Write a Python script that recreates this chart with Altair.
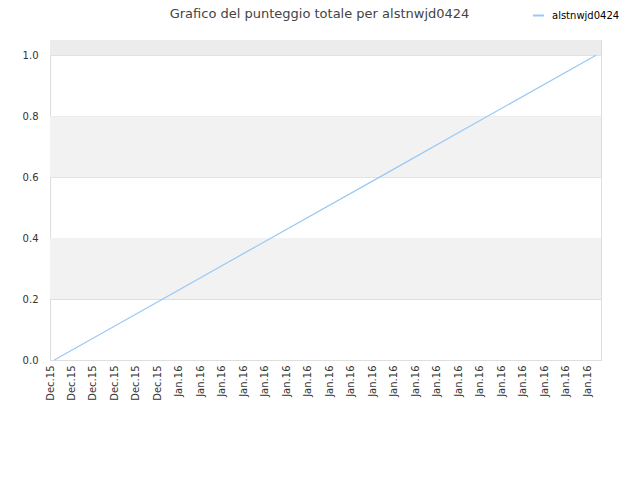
import altair as alt
import pandas as pd

# ---- data ----
tick_labels = ["Dec.15"] * 6 + ["Jan.16"] * 20
series_name = "alstnwjd0424"
series_x = [0.2, 5.0, 10.0, 15.0, 20.0, 25.4]
series_y = [0.0, 0.19, 0.389, 0.587, 0.786, 1.0]
band_lo = [0.2, 0.6, 1.0]
band_hi = [0.4, 0.8, 1.05]
band_fill = ["#f2f2f2", "#f2f2f2", "#ececec"]

line_df = pd.DataFrame({"x": series_x, "y": series_y, "s": [series_name] * len(series_x)})
band_df = pd.DataFrame({"lo": band_lo, "hi": band_hi, "fill": band_fill})

FONT = "DejaVu Sans"
xdom = [0, 25.63]
ydom = [0, 1.05]
label_expr = "[" + ",".join("'" + t + "'" for t in tick_labels) + "][datum.value]"

xscale = alt.Scale(domain=xdom, nice=False, zero=False)
yscale = alt.Scale(domain=ydom, nice=False)

yaxis = alt.Axis(
    values=[0, 0.2, 0.4, 0.6, 0.8, 1.0],
    format=".1f",
    ticks=False,
    domain=False,
    grid=True,
    gridColor="#dedede",
    labelPadding=12,
    title=None,
    labelFont=FONT,
    labelFontSize=10,
    labelColor="#333333",
)

bands = alt.Chart(band_df).mark_rect().encode(
    x=alt.value(0),
    x2=alt.value(551),
    y=alt.Y("lo:Q", scale=yscale, axis=yaxis),
    y2="hi:Q",
    fill=alt.Fill("fill:N", scale=None, legend=None),
)

line = alt.Chart(line_df).mark_line(strokeWidth=1.2).encode(
    x=alt.X(
        "x:Q",
        scale=xscale,
        axis=alt.Axis(
            values=list(range(len(tick_labels))),
            labelExpr=label_expr,
            labelAngle=270,
            labelPadding=5,
            ticks=False,
            domain=False,
            grid=False,
            title=None,
            labelFont=FONT,
            labelFontSize=10,
            labelColor="#333333",
        ),
    ),
    y=alt.Y("y:Q", scale=yscale, axis=yaxis),
    color=alt.Color(
        "s:N",
        scale=alt.Scale(domain=[series_name], range=["#99c8f5"]),
        legend=alt.Legend(
            title=None,
            orient="none",
            legendX=482,
            legendY=-31,
            symbolType="stroke",
            symbolSize=121,
            symbolStrokeWidth=2,
            labelFont=FONT,
            labelFontSize=10,
            labelColor="#000000",
            labelOffset=7,
        ),
    ),
)

chart = alt.layer(bands, line).resolve_scale(color="independent").properties(
    width=551,
    height=320,
    autosize=alt.AutoSizeParams(type="none"),
    padding={"left": 42, "top": 32, "right": 31, "bottom": 112},
    title=alt.TitleParams(
        "Grafico del punteggio totale per alstnwjd0424",
        font=FONT,
        fontSize=13,
        fontWeight="normal",
        color="#444444",
        anchor="middle",
        dx=-6,
        offset=-12,
    ),
).configure_view(stroke="#d9d9d9").configure(background="white")

chart.save("out.html", embed_options={"renderer": "svg", "actions": False})
